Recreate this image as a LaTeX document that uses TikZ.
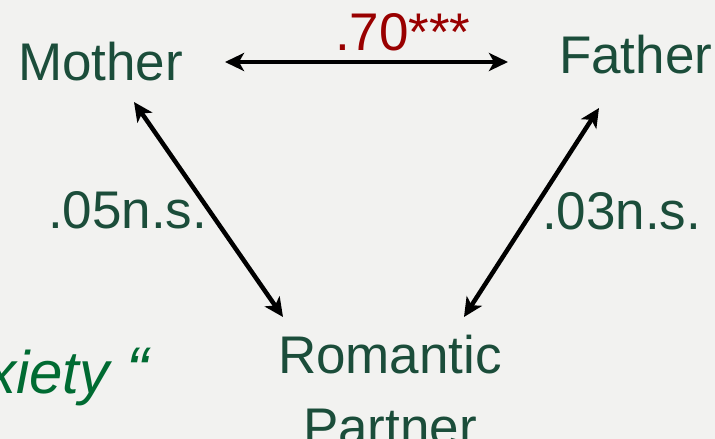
\documentclass[tikz,border=0pt]{standalone}
\usepackage{fontspec}
\setmainfont{Liberation Sans}
\usetikzlibrary{arrows.meta}
\definecolor{bg}{HTML}{F2F2F0}
\definecolor{txtgreen}{HTML}{1B4D3A}
\definecolor{corred}{HTML}{990000}
\definecolor{brightgreen}{HTML}{006B32}
\tikzset{
  lbl/.style={inner sep=0pt, outer sep=0pt, anchor=base west, text=txtgreen, font=\fontsize{53}{72}\selectfont},
  redlbl/.style={lbl, text=corred},
  link/.style={line width=4.5pt, {Stealth[length=19pt,width=18pt,inset=5pt]}-{Stealth[length=19pt,width=18pt,inset=5pt]}},
}
\begin{document}
\begin{tikzpicture}[x=1pt,y=-1pt]
\fill[bg] (0,0) rectangle (715,439);
\useasboundingbox (0,0) rectangle (715,439);
\node[lbl] (mother) at (18,80) {Mother};
\node[lbl] (father) at (559,73) {Father};
\node[lbl, anchor=base, align=center] (partner) at (390,445) {Romantic\\Partner};
\node[redlbl] (r70) at (335,50) {.70***};
\node[lbl] (r05) at (48,228) {.05n.s.};
\node[lbl] (r03) at (542,229) {.03n.s.};
\node[inner sep=0pt, anchor=base west, text=brightgreen, font=\fontsize{60}{64}\selectfont\itshape] (anx) at (-14,393) {xiety {\fontsize{66}{66}\selectfont “}};
\coordinate (mR) at (225,62);
\coordinate (fL) at (508,62);
\coordinate (mB) at (134,102);
\coordinate (fB) at (599,108);
\coordinate (pL) at (283,317);
\coordinate (pR) at (464,317);
\draw[link] (mR) -- (fL);
\draw[link] (mB) -- (pL);
\draw[link] (fB) -- (pR);
\end{tikzpicture}
\end{document}
